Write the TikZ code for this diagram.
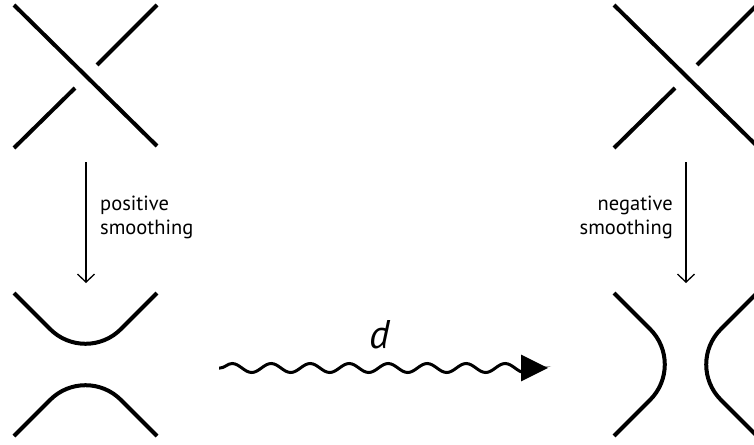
\documentclass[tikz,border=0pt]{standalone}
\usepackage{fontspec}
\setmainfont{PT Sans}
\usetikzlibrary{arrows.meta,decorations.pathmorphing}
\tikzset{
  strand/.style={line width=4pt, line cap=butt},
  smooth strand/.style={line width=4pt, rounded corners=50pt},
  maparrow/.style={line width=1.3pt, -{Straight Barb[length=8pt,width=17pt,line width=1.3pt]}},
  lab/.style={font=\fontsize{20.5}{24}\selectfont, inner sep=0pt},
  wavy/.style={line width=3pt, decorate, decoration={snake, segment length=39pt, amplitude=4.5pt, pre length=1pt, post length=4pt}},
}
\begin{document}
\begin{tikzpicture}[x=1pt,y=-1pt]
\useasboundingbox (0,0) rectangle (754,444);
% left crossing
\draw[strand] (14,5) -- (157,146);
\draw[strand] (14,148) -- (75,88);
\draw[strand] (97,65) -- (157,5);
% right crossing
\draw[strand] (614,5) -- (757,146);
\draw[strand] (614,148) -- (675,88);
\draw[strand] (697,65) -- (757,5);
% vertical arrows
\coordinate (la1) at (86,162); \coordinate (la2) at (86,283);
\coordinate (ra1) at (686,162); \coordinate (ra2) at (686,283);
\draw[maparrow] (la1) -- (la2);
\draw[maparrow] (ra1) -- (ra2);
\node[lab, anchor=west, align=left] (pos) at (100,217) {positive\\smoothing};
\node[lab, anchor=east, align=right] (neg) at (673,217) {negative\\smoothing};
% positive smoothing
\draw[smooth strand] (14,293) -- (85.5,364.5) -- (157,293);
\draw[smooth strand] (14,436) -- (85.5,364.5) -- (157,436);
% negative smoothing
\draw[smooth strand] (614,293) -- (685.5,364.5) -- (614,436);
\draw[smooth strand] (757,293) -- (685.5,364.5) -- (757,436);
% wavy arrow
\coordinate (w1) at (219,368); \coordinate (w2) at (548,368);
\draw[wavy, -{Triangle[length=27pt,width=26pt]}] (w1) -- (w2);
\node[font=\fontsize{40}{40}\selectfont\itshape, inner sep=0pt] (d) at (380,335) {d};
\end{tikzpicture}
\end{document}
